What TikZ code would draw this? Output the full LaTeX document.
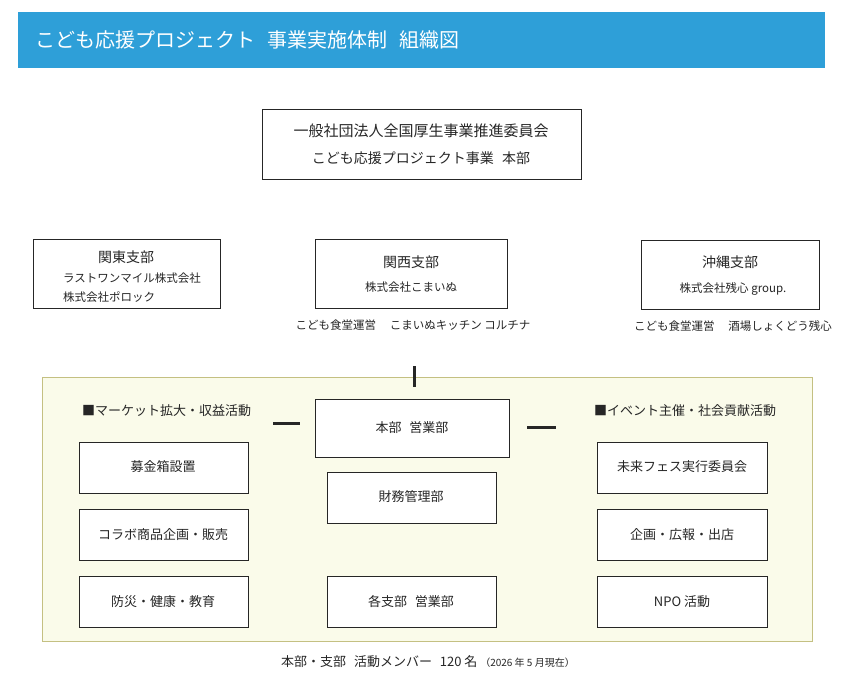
\documentclass[tikz,border=0pt]{standalone}
\usepackage{fontspec}
\setmainfont{Noto Sans CJK JP}
\begin{document}
\begin{tikzpicture}[x=1pt,y=-1pt,
  box/.style={draw=black!85,line width=0.9pt,fill=white,inner sep=0pt},
  t/.style={font=\fontsize{14}{16}\selectfont,text=black!85,inner sep=0pt},
  s/.style={font=\fontsize{11.5}{13}\selectfont,text=black!85,inner sep=0pt},
  m/.style={font=\fontsize{13}{15}\selectfont,text=black!85,inner sep=0pt},
  bar/.style={line width=3pt,black!85}]
\useasboundingbox (0,0) rectangle (850,689);
\fill[white] (0,0) rectangle (850,689);
\fill[color={rgb,255:red,46;green,159;blue,216}] (18,12) rectangle (825,68);
\node[anchor=west,text=white,font=\fontsize{20}{22}\selectfont,inner sep=0pt] (title) at (35,40) {こども応援プロジェクト\hspace{0.6em}事業実施体制\hspace{0.6em}組織図};
% top
\draw[box] (262,109) rectangle (581,179);
\node[t,font=\fontsize{15}{17}\selectfont] (h1) at (421,131) {一般社団法人全国厚生事業推進委員会};
\node[t] (h2) at (421,158) {こども応援プロジェクト事業\hspace{0.6em}本部};
% branches
\draw[box] (33,239) rectangle (220,308);
\node[t] (k1) at (126,257) {関東支部};
\node[s,anchor=west] (k2) at (63,278) {ラストワンマイル株式会社};
\node[s,anchor=west] (k3) at (63,297) {株式会社ポロック};
\draw[box] (315,239) rectangle (507,308);
\node[t] (w1) at (411,262) {関西支部};
\node[s] (w2) at (411,287) {株式会社こまいぬ};
\node[s] (w3) at (413,325) {こども食堂運営\hspace{1.2em}こまいぬキッチン コルチナ};
\draw[box] (641,240) rectangle (819,309);
\node[t] (o1) at (730,262) {沖縄支部};
\node[s] (o2) at (733,289) {株式会社残心 group.};
\node[s] (o3) at (733,326) {こども食堂運営\hspace{1.2em}酒場しょくどう残心};
% panel
\draw[fill={rgb,255:red,250;green,251;blue,234},draw={rgb,255:red,196;green,192;blue,130},line width=0.9pt] (42,377) rectangle (812,641);
\draw[bar] (414,366) -- (414,387);
\node[m,anchor=west] (lh) at (82,411) {■マーケット拡大・収益活動};
\node[m,anchor=west] (rh) at (594,411) {■イベント主催・社会貢献活動};
\draw[bar] (273,423) -- (300,423);
\draw[bar] (527,427) -- (556,427);
\draw[box] (315,399) rectangle (509,457); \node[m] (c1) at (412,428) {本部\hspace{0.6em}営業部};
\draw[box] (327,472) rectangle (496,523); \node[m] (c2) at (411,497) {財務管理部};
\draw[box] (327,576) rectangle (496,627); \node[m] (c3) at (411,602) {各支部\hspace{0.6em}営業部};
\draw[box] (79,442) rectangle (248,493); \node[m] (l1) at (163,467) {募金箱設置};
\draw[box] (79,509) rectangle (248,560); \node[m] (l2) at (163,535) {コラボ商品企画・販売};
\draw[box] (79,576) rectangle (248,627); \node[m] (l3) at (163,602) {防災・健康・教育};
\draw[box] (597,442) rectangle (767,493); \node[m] (r1) at (682,467) {未来フェス実行委員会};
\draw[box] (597,509) rectangle (767,560); \node[m] (r2) at (682,535) {企画・広報・出店};
\draw[box] (597,576) rectangle (767,627); \node[m] (r3) at (682,602) {NPO 活動};
\node[m] (f) at (428,662) {本部・支部\hspace{0.6em}活動メンバー\hspace{0.6em}120 名 {\fontsize{10}{12}\selectfont （2026 年 5 月現在）}};
\end{tikzpicture}
\end{document}
